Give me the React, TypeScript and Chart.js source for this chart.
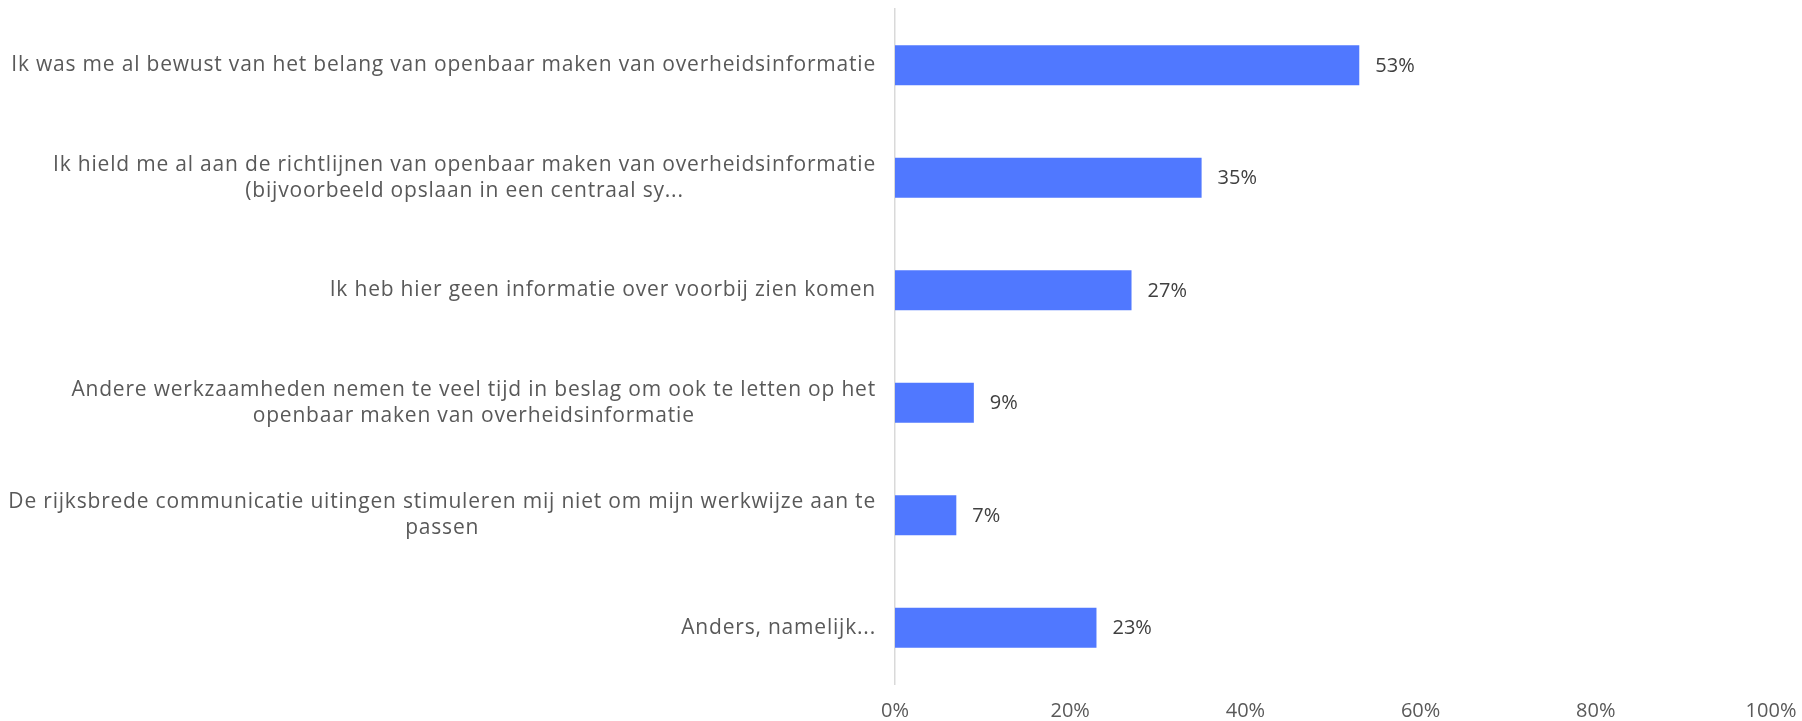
import React, { useEffect, useRef } from "react";
import { Chart, registerables } from "chart.js";

Chart.register(...registerables);

const categories: string[][] = [
  ["Ik was me al bewust van het belang van openbaar maken van overheidsinformatie"],
  ["Ik hield me al aan de richtlijnen van openbaar maken van overheidsinformatie", "(bijvoorbeeld opslaan in een centraal sy..."],
  ["Ik heb hier geen informatie over voorbij zien komen"],
  ["Andere werkzaamheden nemen te veel tijd in beslag om ook te letten op het", "openbaar maken van overheidsinformatie"],
  ["De rijksbrede communicatie uitingen stimuleren mij niet om mijn werkwijze aan te", "passen"],
  ["Anders, namelijk..."],
];
const values: number[] = [53, 35, 27, 9, 7, 23];
const xTicks: number[] = [0, 20, 40, 60, 80, 100];

const FONT = '"Open Sans", "Noto Sans", sans-serif';
const FONT_SIZE = 20;
const CAT_FONT_SIZE = 21;

export default function App() {
  const ref = useRef<HTMLCanvasElement | null>(null);
  useEffect(() => {
    document.body.style.margin = "0";
    const canvas = ref.current;
    if (!canvas) return;

    const labelPlugin = {
      id: "customLabels",
      afterDraw(chart: any) {
        const ctx = chart.ctx;
        const y = chart.scales.y;
        const x = chart.scales.x;
        ctx.save();
        ctx.font = `${CAT_FONT_SIZE}px ${FONT}`;
        try {
          (ctx as any).letterSpacing = "0.8px";
        } catch (e) {}
        ctx.textBaseline = "middle";
        const rightEdge = chart.chartArea.left - 19;
        const lineH = 26;
        categories.forEach((lines, i) => {
          const cy = y.getPixelForTick(i);
          const maxW = Math.max(...lines.map((l) => ctx.measureText(l).width));
          const cx = rightEdge - maxW / 2;
          ctx.fillStyle = "#595959";
          ctx.textAlign = "center";
          lines.forEach((l, j) => {
            const ly = cy + (j - (lines.length - 1) / 2) * lineH;
            ctx.fillText(l, cx, ly);
          });
        });
        try {
          (ctx as any).letterSpacing = "0px";
        } catch (e) {}
        ctx.font = `${FONT_SIZE}px ${FONT}`;
        const meta = chart.getDatasetMeta(0);
        ctx.fillStyle = "#404040";
        ctx.textAlign = "left";
        meta.data.forEach((bar: any, i: number) => {
          ctx.fillText(values[i] + "%", x.getPixelForValue(values[i]) + 16, bar.y + 1);
        });
        ctx.restore();
      },
    };

    const chart = new Chart(canvas, {
      type: "bar",
      data: {
        labels: categories.map((c) => c.join(" ")),
        datasets: [
          {
            data: values,
            backgroundColor: "#5078FF",
            borderWidth: 0,
            barPercentage: 0.356,
            categoryPercentage: 1,
          },
        ],
      },
      options: {
        indexAxis: "y",
        animation: false,
        responsive: false,
        maintainAspectRatio: false,
        layout: { padding: { top: 9, right: 31, left: 0, bottom: 0 } },
        plugins: { legend: { display: false }, tooltip: { enabled: false } },
        scales: {
          x: {
            min: 0,
            max: 100,
            afterBuildTicks(scale: any) {
              scale.ticks = xTicks.map((v) => ({ value: v }));
            },
            afterFit(scale: any) {
              scale.height = 37;
              scale.paddingRight = 0;
              scale.paddingLeft = 0;
            },
            grid: { display: false, drawTicks: false },
            border: { display: false },
            ticks: {
              padding: 15,
              color: "#595959",
              font: { family: FONT, size: FONT_SIZE },
              callback: (v: any) => v + "%",
            },
          },
          y: {
            afterFit(scale: any) {
              scale.width = 895;
            },
            grid: { display: false, drawTicks: false },
            border: { display: true, color: "#d9d9d9", width: 1.5 },
            ticks: { display: false },
          },
        },
      },
      plugins: [labelPlugin],
    });
    return () => chart.destroy();
  }, []);
  return <canvas ref={ref} width={1802} height={721} style={{ display: "block" }} />;
}
